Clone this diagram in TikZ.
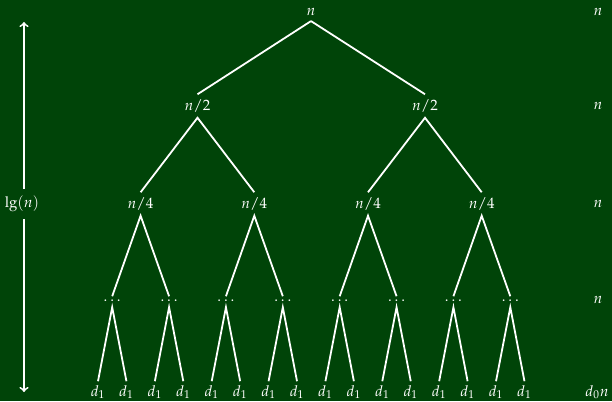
\documentclass[tikz,border=0pt]{standalone}
\usepackage{mathpazo}
\definecolor{boardgreen}{RGB}{0,68,8}

\begin{document}
\begin{tikzpicture}[x=0.667pt, y=-0.667pt, >=to, white, line width=1.2pt]
    \fill[boardgreen] (0,0) rectangle (612,401);
    \useasboundingbox (0,0) rectangle (612,401);

    % tree levels
    \node[inner sep=3pt] (root) at (311,12) {$n$};
    \foreach \i in {0,1}
        \node[inner sep=3pt] (h\i) at ({197.5+227.5*\i},106) {$n/2$};
    \foreach \i in {0,...,3}
        \node[inner sep=3pt] (q\i) at ({140.6+113.7*\i},204) {$n/4$};
    \foreach \i in {0,...,7}
        \node[inner sep=2pt] (e\i) at ({112.2+56.87*\i},301) {$\dots$};
    \foreach \i in {0,...,15}
        \node[inner sep=2pt] (d\i) at ({98+28.43*\i},392) {$d_1$};

    \draw (root.south) -- (h0.north);
    \draw (root.south) -- (h1.north);
    \foreach \i in {0,1} {
        \pgfmathtruncatemacro\a{2*\i}
        \pgfmathtruncatemacro\b{2*\i+1}
        \draw (q\a.north) -- (h\i.south) -- (q\b.north);
    }
    \foreach \i in {0,...,3} {
        \pgfmathtruncatemacro\a{2*\i}
        \pgfmathtruncatemacro\b{2*\i+1}
        \draw (e\a.north) -- (q\i.south) -- (e\b.north);
    }
    \foreach \i in {0,...,7} {
        \pgfmathtruncatemacro\a{2*\i}
        \pgfmathtruncatemacro\b{2*\i+1}
        \draw (d\a.north) -- ([yshift=-1pt]e\i.south) -- (d\b.north);
    }

    % cost per level
    \node (c0) at (598,12) {$n$};
    \node (c1) at (598,106) {$n$};
    \node (c2) at (598,204) {$n$};
    \node (c3) at (598,300) {$n$};
    \node (c4) at (597,392) {$d_0 n$};

    % height
    \node[inner sep=4pt] (lg) at (22,204) {$\lg(n)$};
    \coordinate (htop) at (24,22);
    \coordinate (hbot) at (24,392);
    \draw[->] (lg.north -| htop) -- (htop);
    \draw[->] (lg.south -| hbot) -- (hbot);
\end{tikzpicture}
\end{document}
